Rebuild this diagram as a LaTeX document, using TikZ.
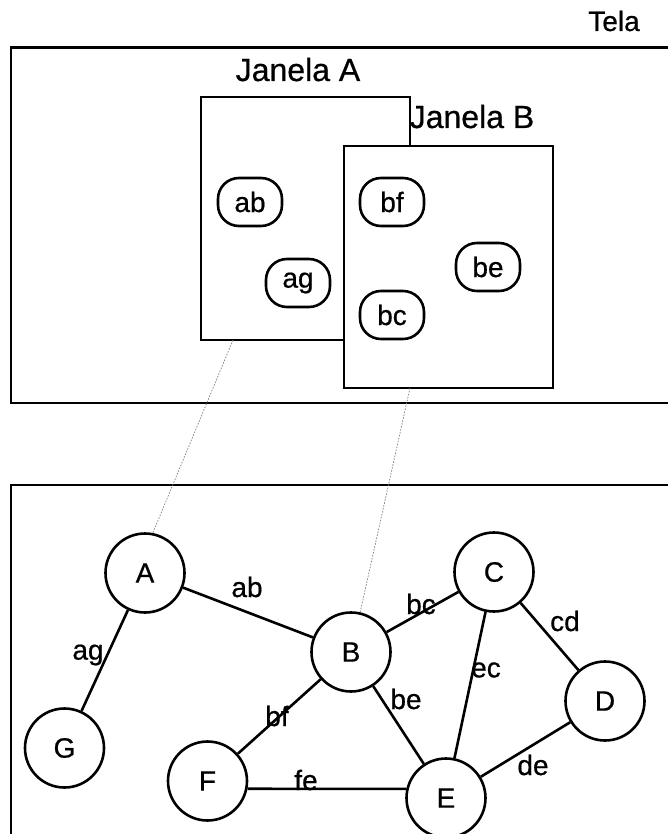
\documentclass[tikz,border=0pt]{standalone}
\usepackage{fontspec}
\setmainfont{Liberation Sans}[FakeBold=0.6]
\begin{document}
\begin{tikzpicture}[x=1pt,y=-1pt,
  frame/.style={line width=2.8pt},
  winbox/.style={draw,fill=white,line width=2.8pt,inner sep=0pt},
  pill/.style={draw,line width=2.6pt,rounded corners=21pt,minimum width=64pt,minimum height=48pt,inner sep=0pt,font=\fontsize{28}{32}\selectfont},
  vertex/.style={draw,circle,line width=2.6pt,minimum size=79pt,inner sep=0pt,font=\fontsize{28}{32}\selectfont},
  edge/.style={line width=2.6pt},
  elabel/.style={inner sep=0pt,font=\fontsize{28}{32}\selectfont},
  title/.style={anchor=base,inner sep=0pt},
  link/.style={gray,line width=0.7pt,dash pattern=on 1.6pt off 1.4pt}]
\useasboundingbox (0,0) rectangle (668,834);
\clip (0,0) rectangle (668,834);

% screen frame (top) and graph frame (bottom)
\draw[frame] (11,47.5) rectangle (670,403);
\draw[frame] (11,485) rectangle (670,840);
\node[title,font=\fontsize{28}{32}\selectfont] (tela) at (614,31) {Tela};

% windows
\node[winbox,minimum width=209pt,minimum height=243pt] (janA) at (305.5,218.5) {};
\node[title,font=\fontsize{32}{36}\selectfont] (tA) at (298,81) {Janela A};
\node[winbox,minimum width=209pt,minimum height=242pt] (janB) at (448.5,267) {};
\node[title,font=\fontsize{32}{36}\selectfont] (tB) at (472,128) {Janela B};

% items inside the windows
\node[pill] (pab) at (250,202) {ab};
\node[pill] (pag) at (298,283) {ag};
\node[pill] (pbf) at (392,202) {bf};
\node[pill] (pbe) at (488,267) {be};
\node[pill] (pbc) at (392,315) {bc};

% graph vertices
\node[vertex] (A) at (145,573) {A};
\node[vertex] (B) at (351,652) {B};
\node[vertex] (C) at (494,572) {C};
\node[vertex] (D) at (605,701) {D};
\node[vertex] (E) at (446,798) {E};
\node[vertex] (F) at (207.5,781) {F};
\node[vertex] (G) at (64.5,748) {G};

% links from windows to vertices
\coordinate (wa) at (233,340);
\coordinate (wb) at (410,388);
\draw[link] (wa) -- (A.79);
\draw[link] (wb) -- (B.77);

% graph edges
\draw[edge] (A) -- (B);
\draw[edge] (A) -- (G);
\draw[edge] (B) -- (C);
\draw[edge] (C) -- (D);
\draw[edge] (C) -- (E);
\draw[edge] (B) -- (E);
\draw[edge] (B) -- (F);
\draw[edge] (F.-11) -- (E.167);
\draw[edge] (D) -- (E);

% edge labels
\node[elabel] (lab) at (247,587) {ab};
\node[elabel] (lag) at (88,655) {ag};
\node[elabel] (lbc) at (421,604) {bc};
\node[elabel] (lcd) at (565,621) {cd};
\node[elabel] (lec) at (486,670) {ec};
\node[elabel] (lbe) at (406,699) {be};
\node[elabel] (lbf) at (277,716) {bf};
\node[elabel] (lfe) at (306,780) {fe};
\node[elabel] (lde) at (533,765) {de};
\end{tikzpicture}
\end{document}
